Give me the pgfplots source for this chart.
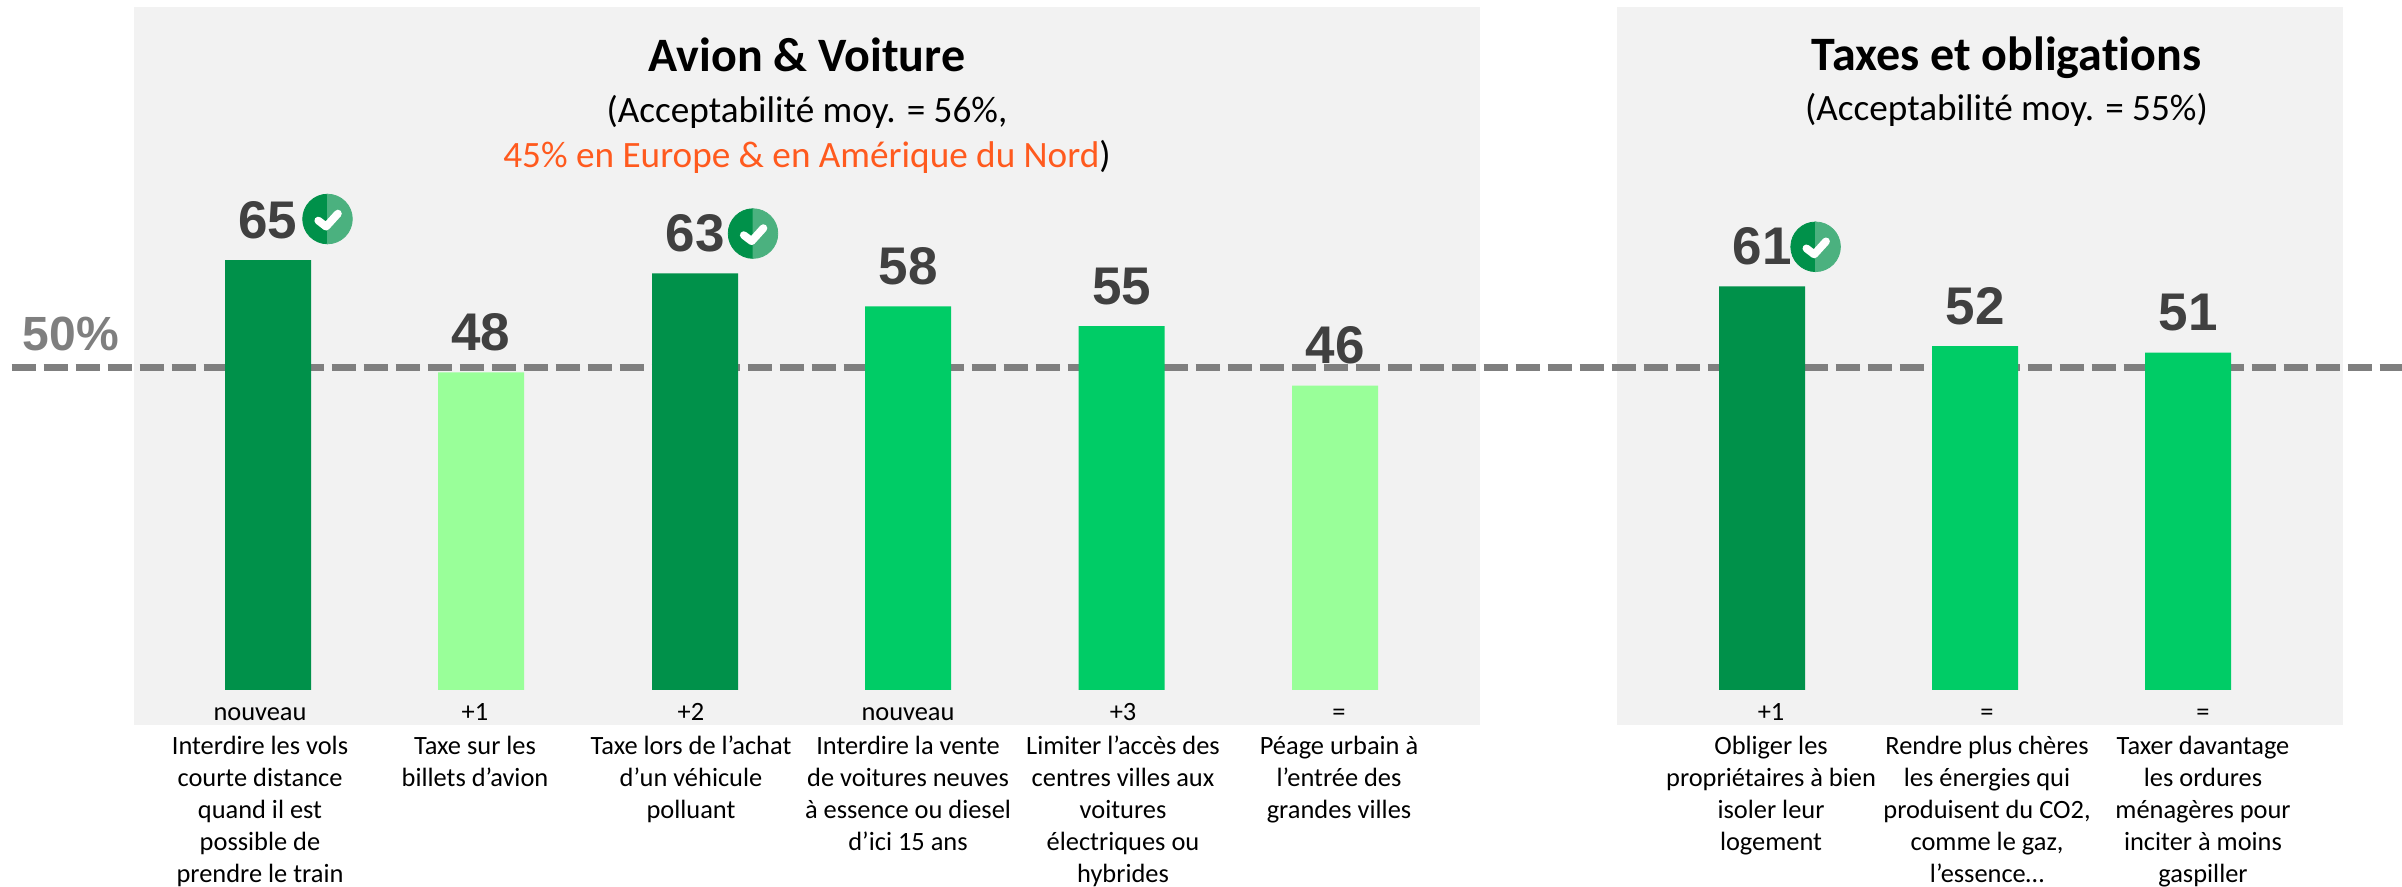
\documentclass[border=0pt]{standalone}
\usepackage{pgfplots}
\pgfplotsset{compat=1.18}
\usepackage{fontspec}
\setmainfont{Carlito}[Ligatures=CommonOff]
\newfontfamily\arialf{Liberation Sans}
\definecolor{paneL}{HTML}{F2F2F2}
\definecolor{dk}{HTML}{00914A}
\definecolor{md}{HTML}{00CC66}
\definecolor{lt}{HTML}{99FF99}
\definecolor{badgeR}{HTML}{4BB17F}
\definecolor{numc}{HTML}{404040}
\definecolor{linec}{HTML}{7F7F7F}
\definecolor{orng}{HTML}{FF5A1E}
\newcommand{\ls}{\rule{0pt}{12pt}}
\pgfdeclareplotmark{badge}{%
  \fill[dk] (0,12.4pt) arc[start angle=90,end angle=270,radius=12.4pt] -- cycle;
  \fill[badgeR] (0,12.4pt) arc[start angle=90,end angle=-90,radius=12.4pt] -- cycle;
  \draw[white,line width=3.9pt,line cap=round,line join=round] (-4.6pt,-0.8pt) -- (-0.7pt,-3.8pt) -- (5.2pt,2.7pt);
}
\pgfplotsset{
  barstyle/.style={ybar,bar width=43pt,bar shift=0pt,draw=none,
    nodes near coords,
    every node near coord/.style={anchor=base,inner sep=0pt,yshift=11pt,
      font=\arialf\bfseries\fontsize{26.5}{26.5}\selectfont,text=numc,
      /pgf/number format/assume math mode=true}},
}
\begin{document}
\begin{tikzpicture}
\begin{axis}[
  scale only axis,width=1201pt,height=345pt,
  xmin=0,xmax=2402,ymin=0,ymax=104.31,
  clip=false,axis on top,
  axis line style={draw=none},
  major tick length=0pt,
  ytick=\empty,
  xtick={260,475,691,908,1123,1339,1771,1987,2203},
  xticklabels={
    {\ls nouveau\\[1pt]Interdire les vols\\courte distance\\quand il est\\possible de\\prendre le train},
    {\ls +1\\[1pt]Taxe sur les\\billets d’avion},
    {\ls +2\\[1pt]Taxe lors de l’achat\\d’un véhicule\\polluant},
    {\ls nouveau\\[1pt]Interdire la vente\\de voitures neuves\\à essence ou diesel\\d’ici 15 ans},
    {\ls +3\\[1pt]Limiter l’accès des\\centres villes aux\\voitures\\électriques ou\\hybrides},
    {\ls =\\[1pt]Péage urbain à\\l’entrée des\\grandes villes},
    {\ls +1\\[1pt]Obliger les\\propriétaires à bien\\isoler leur\\logement},
    {\ls =\\[1pt]Rendre plus chères\\les énergies qui\\produisent du CO2,\\comme le gaz,\\l’essence…},
    {\ls =\\[1pt]Taxer davantage\\les ordures\\ménagères pour\\inciter à moins\\gaspiller}},
  xticklabel style={align=center,inner sep=0pt,anchor=north,yshift=-3pt,
    font=\fontsize{13.2}{16}\selectfont,text=black},
]
\fill[paneL] (axis cs:134,-5.29) rectangle (axis cs:1480,103.25);
\fill[paneL] (axis cs:1617,-5.29) rectangle (axis cs:2343,103.25);
\addplot[linec,line width=3.5pt,dash pattern=on 12.2pt off 3.8pt,forget plot]
  coordinates {(11.5,48.7) (2402,48.7)};
\addplot[barstyle,fill=dk,forget plot] coordinates {(268,65) (695,63) (1762,61)};
\addplot[barstyle,fill=md,forget plot] coordinates {(908,58) (1121.5,55) (1975,52) (2188,51)};
\addplot[barstyle,fill=lt,forget plot] coordinates {(481,48) (1335,46)};
\addplot[only marks,mark=badge,forget plot] coordinates {(327.5,71.2) (753,69.0) (1815.6,67.0)};
\node[anchor=base,inner sep=0pt,font=\bfseries\fontsize{24}{24}\selectfont] at (axis cs:807,93.45) {Avion \& Voiture};
\node[anchor=base,inner sep=0pt,font=\fontsize{18.6}{18.6}\selectfont] at (axis cs:807,85.85) {(Acceptabilité moy. = 56\%,};
\node[anchor=base,inner sep=0pt,font=\fontsize{18.6}{18.6}\selectfont] at (axis cs:807,78.95) {\textcolor{orng}{45\% en Europe \& en Amérique du Nord})};
\node[anchor=base,inner sep=0pt,font=\bfseries\fontsize{24}{24}\selectfont] at (axis cs:2006.5,93.65) {Taxes et obligations};
\node[anchor=base,inner sep=0pt,font=\fontsize{18.6}{18.6}\selectfont] at (axis cs:2006.5,86.15) {(Acceptabilité moy. = 55\%)};
\node[anchor=base,inner sep=0pt,font=\arialf\bfseries\fontsize{24}{24}\selectfont,text=linec] at (axis cs:71,51.3) {50\%};
\end{axis}
\pgfresetboundingbox
\path[use as bounding box] (0,-98.5pt) rectangle (1201pt,345pt);
\end{tikzpicture}
\end{document}
